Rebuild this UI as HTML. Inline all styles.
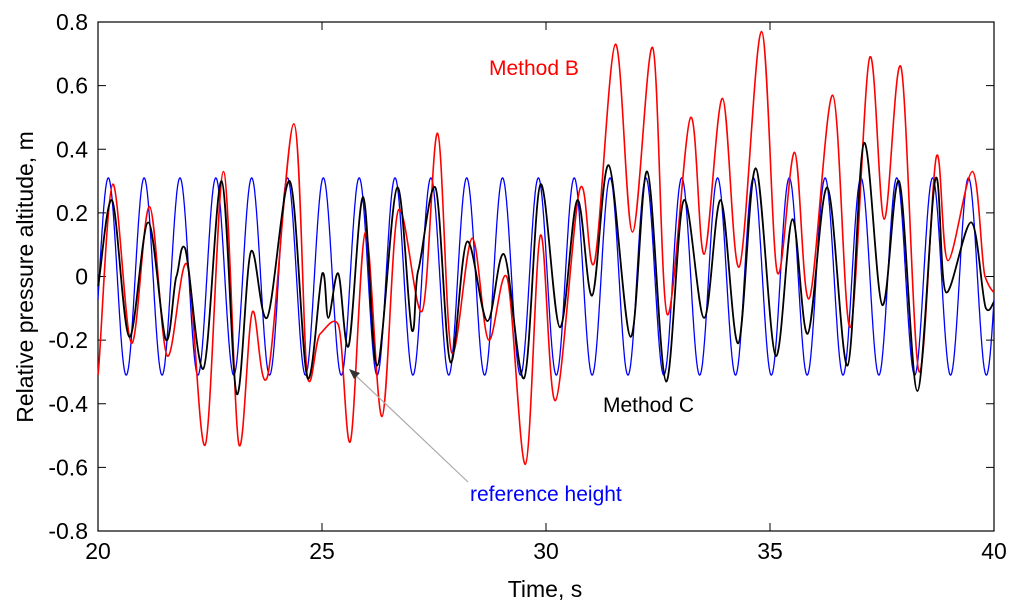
<!DOCTYPE html>
<html><head><meta charset="utf-8"><style>
html,body{margin:0;padding:0;background:#fff;width:1024px;height:613px;overflow:hidden}
svg text{font-family:"Liberation Sans",Arial,sans-serif}
</style></head><body>
<svg id="chart" width="1024" height="613" viewBox="0 0 1024 613" xmlns="http://www.w3.org/2000/svg">
<g id="axes"></g>
<g id="series"></g>
<text x="489" y="75" font-size="21" fill="#ff0000">Method B</text>
<text x="603" y="412" font-size="21" fill="#000">Method C</text>
<text x="470" y="501" font-size="21" fill="#0000ff">reference height</text>
<line x1="468" y1="482" x2="352" y2="372" stroke="#aaa" stroke-width="1.2"/>
<path d="M349,369 L360,373 L354,379 Z" fill="#333"/>
<text x="545" y="597" font-size="23" text-anchor="middle">Time, s</text>
<text transform="translate(33,277) rotate(-90)" font-size="23" text-anchor="middle">Relative pressure altitude, m</text>
</svg>
<script>
const xTicks=[20,25,30,35,40];
const yTicks=[-0.8,-0.6,-0.4,-0.2,0,0.2,0.4,0.6,0.8];
const yTickLabels=["-0.8","-0.6","-0.4","-0.2","0","0.2","0.4","0.6","0.8"];
const refAmplitude=0.31;
const refFrequency=1.25;
const refPeakTime=20.23;
const blackT=[20,20.31,20.70,21.12,21.52,21.75,21.94,22.35,22.76,23.10,23.42,23.77,24.28,24.68,25.01,25.14,25.36,25.59,25.92,26.23,26.68,27.01,27.15,27.53,27.87,28.24,28.69,29.06,29.51,29.88,30.31,30.70,31.03,31.40,31.89,32.26,32.68,33.08,33.53,33.90,34.29,34.68,35.13,35.50,35.84,36.28,36.73,37.10,37.51,37.88,38.29,38.70,38.93,39.49,39.82,40];
const blackV=[-0.03,0.24,-0.19,0.17,-0.20,0.0,0.09,-0.29,0.30,-0.37,0.08,-0.13,0.30,-0.32,0.01,-0.13,0.01,-0.22,0.25,-0.28,0.28,-0.17,0.02,0.28,-0.27,0.11,-0.14,0.07,-0.32,0.29,-0.16,0.24,-0.06,0.35,-0.19,0.33,-0.33,0.24,-0.13,0.24,-0.21,0.34,-0.25,0.18,-0.18,0.28,-0.28,0.42,-0.09,0.30,-0.36,0.31,-0.05,0.17,-0.10,-0.08];
const redT=[20,20.33,20.75,21.15,21.55,21.98,22.39,22.80,23.15,23.45,23.77,24.37,24.68,24.96,25.36,25.63,25.97,26.34,26.71,27.23,27.58,27.90,28.35,28.72,29.12,29.54,29.88,30.21,30.77,31.07,31.55,31.93,32.38,32.71,33.23,33.53,33.94,34.31,34.81,35.17,35.55,35.87,36.40,36.79,37.23,37.55,37.92,38.33,38.72,38.97,39.52,39.80,40];
const redV=[-0.31,0.29,-0.21,0.22,-0.25,0.04,-0.53,0.33,-0.53,-0.11,-0.32,0.48,-0.32,-0.18,-0.15,-0.52,0.14,-0.44,0.21,-0.11,0.45,-0.24,0.12,-0.20,0.0,-0.59,0.13,-0.39,0.28,0.04,0.73,0.14,0.72,-0.12,0.50,0.07,0.56,0.03,0.77,0.01,0.39,-0.07,0.57,-0.16,0.69,0.18,0.66,-0.30,0.38,0.05,0.33,0.0,-0.05];
const NS="http://www.w3.org/2000/svg";
const L=98,R=994,T=22,B=531;
function sx(t){return L+(t-20)/20*(R-L);}
function sy(v){return B-(v+0.8)/1.6*(B-T);}
function mk(tag,attrs,parent){const e=document.createElementNS(NS,tag);for(const k in attrs)e.setAttribute(k,attrs[k]);parent.appendChild(e);return e;}
const axes=document.getElementById('axes');
const frame=mk('rect',{x:L,y:T,width:R-L,height:B-T,fill:'none',stroke:'#000','stroke-width':1.2},axes);


xTicks.forEach(t=>{
  const x=sx(t);
  const a=mk('line',{x1:x,y1:B,x2:x,y2:B-8,stroke:'#000'},axes);
  
  
  const b=mk('line',{x1:x,y1:T,x2:x,y2:T+8,stroke:'#000'},axes);
  
  
  const tx=mk('text',{x:x,y:B+28,'font-size':23,'text-anchor':'middle'},axes);
  tx.textContent=String(t);
  
  
});
yTicks.forEach((v,i)=>{
  const y=sy(v);
  const a=mk('line',{x1:L,y1:y,x2:L+8,y2:y,stroke:'#000'},axes);
  
  
  const b=mk('line',{x1:R,y1:y,x2:R-8,y2:y,stroke:'#000'},axes);
  
  
  const tx=mk('text',{x:L-10,y:y+8,'font-size':23,'text-anchor':'end'},axes);
  tx.textContent=yTickLabels[i];
  
  
});
function smooth(ts,vs){
  const p=ts.map((t,i)=>[sx(t),sy(vs[i])]);
  let d='M'+p[0][0].toFixed(1)+','+p[0][1].toFixed(1);
  for(let i=0;i<p.length-1;i++){
    const p0=p[Math.max(0,i-1)],p1=p[i],p2=p[i+1],p3=p[Math.min(p.length-1,i+2)];
    const c1x=p1[0]+(p2[0]-p0[0])/6,c1y=p1[1]+(p2[1]-p0[1])/6*0.5;
    const c2x=p2[0]-(p3[0]-p1[0])/6,c2y=p2[1]-(p3[1]-p1[1])/6*0.5;
    d+=' C'+c1x.toFixed(1)+','+c1y.toFixed(1)+' '+c2x.toFixed(1)+','+c2y.toFixed(1)+' '+p2[0].toFixed(1)+','+p2[1].toFixed(1);
  }
  return d;
}
const series=document.getElementById('series');
let bd='';
for(let i=0;i<=2000;i++){const t=20+i*0.01;const v=refAmplitude*Math.cos(2*Math.PI*refFrequency*(t-refPeakTime));bd+=(i?'L':'M')+sx(t).toFixed(1)+','+sy(v).toFixed(1);}
const blue=mk('path',{d:bd,fill:'none',stroke:'#0000ff','stroke-width':1.3},series);


const red=mk('path',{d:smooth(redT,redV),fill:'none',stroke:'#ff0000','stroke-width':1.6},series);


const blk=mk('path',{d:smooth(blackT,blackV),fill:'none',stroke:'#000','stroke-width':1.8},series);


</script>
</body></html>
